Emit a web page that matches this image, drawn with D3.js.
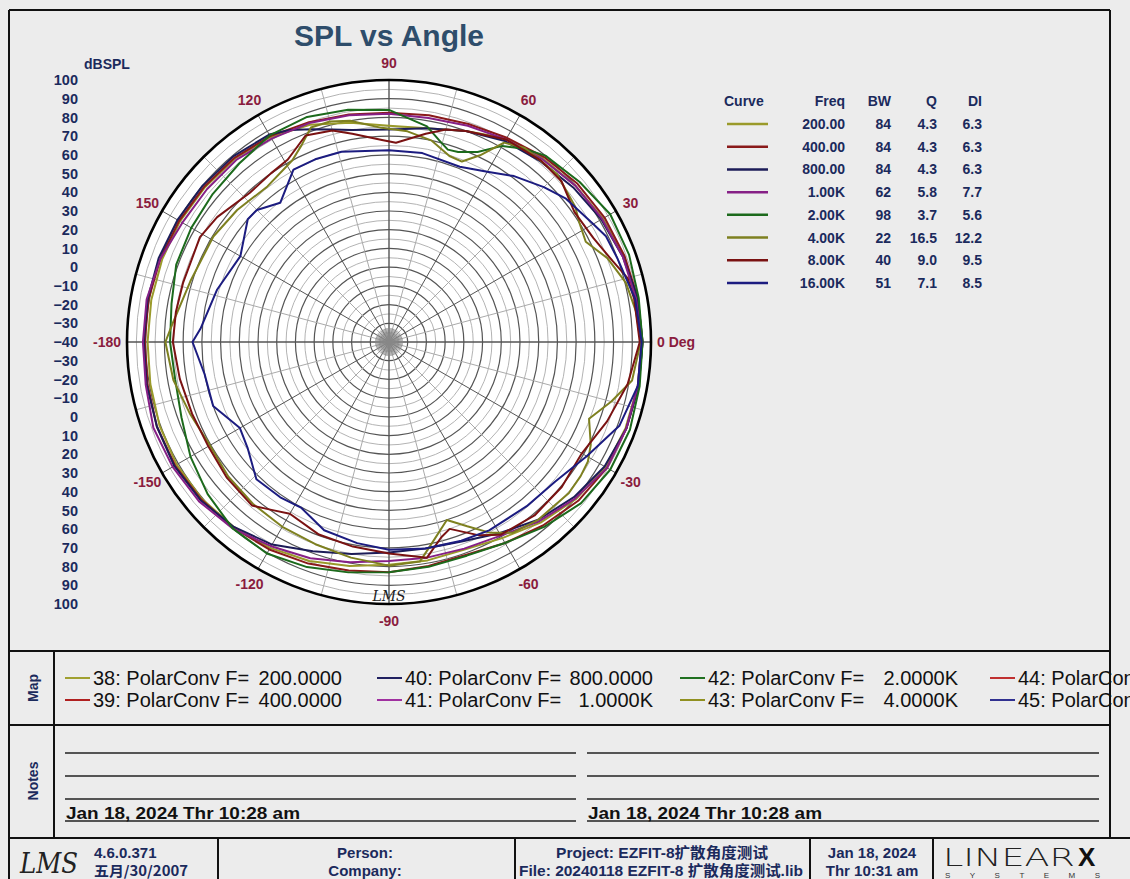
<!DOCTYPE html>
<html><head><meta charset="utf-8">
<script src="https://cdn.jsdelivr.net/npm/d3@7"></script>
<style>body{margin:0;background:#ececec;} svg{display:block;}</style>
</head><body><svg id="c" width="1130" height="879"></svg>
<script>
// ---------------- DATA ----------------
const curveFreqs = ["200.00","400.00","800.00","1.00K","2.00K","4.00K","8.00K","16.00K"];
const curveBW = ["84","84","84","62","98","22","40","51"];
const curveQ = ["4.3","4.3","4.3","5.8","3.7","16.5","9.0","7.1"];
const curveDI = ["6.3","6.3","6.3","7.7","5.6","12.2","9.5","8.5"];
const curveColors = ["#9a9a2a","#8a1a1a","#1c1c58","#862086","#1c6a1c","#7e8020","#7a1212","#1c1c80"];
const mapIds = ["38","39","40","41","42","43","44","45"];
const mapValues = ["200.0000","400.0000","800.0000","1.0000K","2.0000K","4.0000K","8.0000K","16.0000K"];
const mapColors = ["#a0a030","#b02020","#202060","#a030a0","#207020","#909020","#c03030","#303090"];
const dbTicksUpper = [100,90,80,70,60,50,40,30,20,10,0,-10,-20,-30,-40];
const dbTicksLower = [-30,-20,-10,0,10,20,30,40,50,60,70,80,90,100];
const angleTickDeg = [0,30,60,90,120,150,180,-150,-120,-90,-60,-30];
const angleTickLabels = ["0 Deg","30","60","90","120","150","-180","-150","-120","-90","-60","-30"];

// [angle deg, dBSPL]
const spl200 = [[-180,89],[-170,89.5],[-160,90.5],[-150,91],[-140,90.5],[-130,89],[-120,87],[-110,84.5],[-100,81.5],[-90,79],[-80,78.5],[-70,78],[-60,81],[-50,86],[-40,90.5],[-30,93.5],[-20,94.5],[-10,95],[0,95],[10,94.5],[20,93.5],[30,92],[40,90],[50,88],[60,85.5],[70,80],[80,76],[90,75.5],[100,79],[110,83.5],[120,86.5],[130,88],[140,88.5],[150,89],[160,89],[170,89]];
const spl400 = [[-180,90.5],[-170,91],[-160,92],[-150,92],[-140,91],[-130,89.5],[-120,88],[-110,86],[-100,84],[-90,83],[-80,81.5],[-70,81],[-60,84],[-50,88],[-40,92],[-30,94.5],[-20,95],[-10,95.5],[0,95.5],[10,95],[20,94],[30,93],[40,91.5],[50,89],[60,86],[70,84],[80,83],[90,82.5],[100,83.5],[110,85],[120,87],[130,88.5],[140,89],[150,89.5],[160,90],[170,90.5]];
const spl800 = [[-180,91],[-170,91.5],[-160,92],[-150,92.5],[-140,91.5],[-130,89],[-120,85],[-110,79],[-100,75],[-90,72.5],[-80,72],[-70,73.5],[-60,78],[-50,84],[-40,89],[-30,93],[-20,95],[-10,95.5],[0,95.5],[10,95],[20,93],[30,91],[40,88.5],[50,86],[60,84],[70,80],[80,76],[90,73.5],[100,75],[105,77.5],[110,81],[115,85],[120,88],[130,89.5],[140,90],[150,90.5],[160,91],[170,91]];
const spl1k = [[-180,91.5],[-170,92],[-160,94],[-150,93.5],[-140,92.5],[-130,90],[-120,86],[-110,83],[-100,79.5],[-90,77],[-80,77],[-70,77.5],[-60,79.5],[-50,85],[-40,90],[-30,94.5],[-20,95],[-10,95],[0,95],[10,94],[20,93],[30,91.5],[40,90],[50,87.5],[60,85],[70,83],[80,81.5],[90,82],[100,83],[110,84.5],[120,85.5],[130,87],[140,87],[150,87.5],[160,90],[170,91.5]];
const spl2k = [[-180,77],[-170,76],[-160,78],[-150,82.5],[-140,86.5],[-130,90],[-120,90.5],[-110,88],[-100,85],[-90,83],[-80,82],[-70,81.5],[-60,84],[-50,89],[-40,94],[-30,96.5],[-20,97],[-10,96],[0,95.5],[10,95.5],[20,96.5],[30,96.5],[40,93],[50,90],[55,86],[60,81],[65,72],[70,68],[73,67.5],[76,71],[80,77],[90,84],[100,86],[110,88],[120,87.5],[130,84.5],[140,83],[150,82],[160,81],[170,78]];
const spl4k = [[-180,79.5],[-170,77],[-160,73],[-150,70.5],[-140,72],[-130,73],[-120,74],[-110,75],[-100,77],[-90,79.5],[-82,78.5],[-78,70],[-72,60],[-67,67],[-62,75.5],[-57,81.5],[-50,84],[-40,85.5],[-35,85],[-31,84],[-27,81],[-21,74.5],[-15,83],[-9,91.5],[0,94.5],[7,93],[14,90.5],[21,85],[27,78],[32,80],[36,83],[45,87],[55,86.5],[60,83],[64,71],[68,64],[72,64.5],[78,70],[85,73],[92,74.5],[100,80],[105,82],[110,82],[114,75],[118,70],[128,65.5],[139,67.5],[149,69.5],[163,71],[175,76]];
const spl8k = [[-180,75.5],[-170,73.5],[-160,72],[-150,71.5],[-140,73],[-130,74],[-125,69.5],[-120,66],[-110,69.5],[-100,71],[-90,73],[-80,77],[-75,68],[-72,65],[-65,74],[-60,79],[-50,81],[-40,80.5],[-30,79],[-20,84],[-10,89.5],[0,94],[10,93],[15,92],[20,87],[27,82.5],[35,81],[43,86],[50,86.5],[60,85],[70,80],[75,77.5],[80,73],[88,66.5],[92,68],[100,73],[105,77],[112,79],[119,71.5],[125,70],[133,69],[144,73.5],[151,75.5],[164,74.5],[172,75]];
const spl16k = [[-180,65],[-170,60],[-160,60],[-150,52],[-143,54.5],[-134,62],[-125,61.3],[-118,60.2],[-109,66.4],[-99,68.8],[-90,71],[-80,72],[-70,73],[-62,74],[-50,74.5],[-40,76],[-30,82],[-20,91],[-10,95],[0,95],[10,93.5],[20,90],[26,89],[30,86],[39,81.7],[45,77],[53,71],[60,65],[68,61],[80,62.5],[90,62.5],[104,64.8],[112,65.3],[119,65.3],[128,54.4],[135,59.8],[139,60],[150,51.7],[163,56],[176,61]];
const seriesList = [spl200, spl400, spl800, spl1k, spl2k, spl4k, spl8k, spl16k];

// ---------------- DRAW ----------------
const svg = d3.select("#c");
const W = 1130, H = 879;
svg.append("rect").attr("width", W).attr("height", H).attr("fill", "#ececec");

const cx = 389, cy = 342, R = 262;
const rScale = d3.scaleLinear().domain([-40, 100]).range([0, R]);
const aScale = d3.scaleLinear().domain([-180, 180]).range([3 * Math.PI / 2, -Math.PI / 2]);
const NAVY = "#1b2a5c", MAROON = "#8a1c3e";
const sans = "'Liberation Sans', Arial, sans-serif";
const narrow = "'Liberation Sans Narrow', 'Liberation Sans', Arial, sans-serif";

// title
svg.append("text").attr("x", 389).attr("y", 46).attr("text-anchor", "middle")
  .attr("font-family", sans).attr("font-weight", "bold").attr("font-size", 30)
  .attr("fill", "#2e4d6b").text("SPL vs Angle");

// polar plot
const plot = svg.append("g").attr("transform", `translate(${cx},${cy})`);
plot.append("circle").attr("r", R).attr("fill", "#ffffff");

// grid circles every 5 dB
const gridVals = d3.range(-35, 100, 5);
plot.selectAll("circle.grid").data(gridVals).join("circle").attr("class", "grid")
  .attr("r", d => rScale(d)).attr("fill", "none")
  .attr("stroke", d => (d % 10 === 0) ? "#555" : "#aaa")
  .attr("stroke-width", d => (d % 10 === 0) ? 1.2 : 0.9);

// spokes every 15 deg
const spokeDeg = d3.range(-180, 180, 15);
const spokeLine = d3.lineRadial().angle(d => d[0]).radius(d => d[1]);
plot.selectAll("path.spoke").data(spokeDeg).join("path").attr("class", "spoke")
  .attr("d", d => spokeLine([[aScale(d), 0], [aScale(d), R]]))
  .attr("stroke", d => (d % 30 === 0) ? "#555" : "#aaa")
  .attr("stroke-width", d => (d % 90 === 0) ? 1.4 : 1);
// center starburst
const starDeg = d3.range(-180, 180, 5);
plot.selectAll("path.star").data(starDeg).join("path").attr("class", "star")
  .attr("d", d => spokeLine([[aScale(d), 0], [aScale(d), 14]]))
  .attr("stroke", "#888").attr("stroke-width", 0.8);

// curves
const curveLine = d3.lineRadial()
  .angle(d => aScale(d[0])).radius(d => rScale(d[1]))
  .curve(d3.curveLinearClosed);
plot.selectAll("path.curve").data(seriesList).join("path").attr("class", "curve")
  .attr("d", d => curveLine(d)).attr("fill", "none")
  .attr("stroke", (d, i) => curveColors[i]).attr("stroke-width", 2)
  .attr("stroke-linejoin", "round");

// outer boundary
plot.append("circle").attr("r", R).attr("fill", "none").attr("stroke", "#000").attr("stroke-width", 2.6);

// signature
plot.append("text").attr("x", 0).attr("y", rScale(98.2)).attr("text-anchor", "middle")
  .attr("font-family", "'DejaVu Serif', serif").attr("font-style", "italic")
  .attr("font-size", 14).attr("fill", "#222").text("LMS");

// angle labels
plot.selectAll("text.ang").data(angleTickDeg).join("text").attr("class", "ang")
  .each(function (d, i) {
    const a = aScale(d), rr = R + 17;
    let x = rr * Math.sin(a), y = -rr * Math.cos(a);
    let anchor = "middle";
    if (d === 0) { x = R + 6; anchor = "start"; }
    if (d === 180) { x = -R - 6; anchor = "end"; }
    d3.select(this).attr("x", x).attr("y", y + 5).attr("text-anchor", anchor).text(angleTickLabels[i]);
  })
  .attr("font-family", sans).attr("font-weight", "bold").attr("font-size", 14).attr("fill", MAROON);

// left dB axis (mirrored)
const yUp = d3.scaleLinear().domain([-40, 100]).range([cy, cy - R]);
const yDown = d3.scaleLinear().domain([-40, 100]).range([cy, cy + R]);
function styleAxis(g) {
  g.select(".domain").remove();
  g.selectAll("text").attr("font-family", sans).attr("font-weight", "bold")
    .attr("font-size", 14.5).attr("fill", NAVY);
}
svg.append("g").attr("transform", "translate(78,0)")
  .call(d3.axisLeft(yUp).tickValues(dbTicksUpper).tickSize(0).tickPadding(0).tickFormat(d3.format("d")))
  .call(styleAxis);
svg.append("g").attr("transform", "translate(78,0)")
  .call(d3.axisLeft(yDown).tickValues(dbTicksLower).tickSize(0).tickPadding(0).tickFormat(d3.format("d")))
  .call(styleAxis);
svg.append("text").attr("x", 84).attr("y", 69).attr("font-family", sans).attr("font-weight", "bold")
  .attr("font-size", 14).attr("fill", NAVY).text("dBSPL");

// legend table
const lg = svg.append("g").attr("font-family", sans).attr("font-weight", "bold").attr("font-size", 14).attr("fill", NAVY);
const colX = { curve: 724, freq: 845, bw: 891, q: 937, di: 982 };
lg.append("text").attr("x", colX.curve).attr("y", 106).text("Curve");
lg.append("text").attr("x", colX.freq).attr("y", 106).attr("text-anchor", "end").text("Freq");
lg.append("text").attr("x", colX.bw).attr("y", 106).attr("text-anchor", "end").text("BW");
lg.append("text").attr("x", colX.q).attr("y", 106).attr("text-anchor", "end").text("Q");
lg.append("text").attr("x", colX.di).attr("y", 106).attr("text-anchor", "end").text("DI");
const rowY = d3.scaleLinear().domain([0, 7]).range([124, 283]);
curveFreqs.forEach((f, i) => {
  const y = rowY(i);
  lg.append("line").attr("x1", 727).attr("x2", 768).attr("y1", y).attr("y2", y)
    .attr("stroke", curveColors[i]).attr("stroke-width", 2.5);
  lg.append("text").attr("x", colX.freq).attr("y", y + 5).attr("text-anchor", "end").text(f);
  lg.append("text").attr("x", colX.bw).attr("y", y + 5).attr("text-anchor", "end").text(curveBW[i]);
  lg.append("text").attr("x", colX.q).attr("y", y + 5).attr("text-anchor", "end").text(curveQ[i]);
  lg.append("text").attr("x", colX.di).attr("y", y + 5).attr("text-anchor", "end").text(curveDI[i]);
});

// frame
const fr = svg.append("g").attr("stroke", "#111").attr("stroke-width", 2);
[[9, 10, 1110, 10], [9, 10, 9, 879], [1110, 10, 1110, 838],
 [9, 651, 1110, 651], [9, 725, 1110, 725], [9, 838, 1130, 838],
 [54, 651, 54, 838], [218, 838, 218, 879], [515, 838, 515, 879], [810, 838, 810, 879], [933, 838, 933, 879]]
  .forEach(l => fr.append("line").attr("x1", l[0]).attr("y1", l[1]).attr("x2", l[2]).attr("y2", l[3]));

// row labels
svg.append("text").attr("transform", "translate(38,688) rotate(-90)").attr("text-anchor", "middle")
  .attr("font-family", sans).attr("font-weight", "bold").attr("font-size", 14).attr("fill", NAVY).text("Map");
svg.append("text").attr("transform", "translate(38,781) rotate(-90)").attr("text-anchor", "middle")
  .attr("font-family", sans).attr("font-weight", "bold").attr("font-size", 14).attr("fill", NAVY).text("Notes");

// map entries (the last column is cut by the picture edge, as in the original)
const mapColX = [65, 377, 680, 990];
const mapValEnd = [249, 248, 250, 250];
const mapRowY = [678, 700];
mapIds.forEach((id, i) => {
  const c = Math.floor(i / 2), r = i % 2;
  const x = mapColX[c], y = mapRowY[r];
  svg.append("line").attr("x1", x).attr("x2", x + 25).attr("y1", y).attr("y2", y)
    .attr("stroke", mapColors[i]).attr("stroke-width", 2);
  svg.append("text").attr("x", x + 28).attr("y", y + 7).attr("font-family", sans).attr("font-size", 20)
    .attr("fill", "#111").text(id + ": PolarConv F=");
  if (c < 3) {
    svg.append("text").attr("x", x + 28 + mapValEnd[c]).attr("y", y + 7).attr("text-anchor", "end")
      .attr("font-family", sans).attr("font-size", 20).attr("fill", "#111").text(mapValues[i]);
  }
});

// notes lines
const notesY = [753, 776, 799, 821];
[[65, 576], [587, 1099]].forEach(cl => {
  notesY.forEach(y => svg.append("line").attr("x1", cl[0]).attr("x2", cl[1]).attr("y1", y).attr("y2", y)
    .attr("stroke", "#222").attr("stroke-width", 1.6));
  svg.append("text").attr("x", cl[0] + 1).attr("y", 819).attr("font-family", narrow).attr("font-weight", "bold")
    .attr("font-size", 17).attr("fill", "#111").attr("textLength", 234).attr("lengthAdjust", "spacingAndGlyphs")
    .text("Jan 18, 2024  Thr 10:28 am");
});

// footer
const ft = svg.append("g").attr("font-family", narrow).attr("font-weight", "bold").attr("font-size", 15).attr("fill", NAVY);
ft.append("text").attr("x", 94).attr("y", 858).text("4.6.0.371");
ft.append("text").attr("x", 94).attr("y", 876).attr("font-size", 14).attr("font-family", "'Noto Sans CJK SC', " + narrow).text("五月/30/2007")
  .attr("textLength", 94).attr("lengthAdjust", "spacingAndGlyphs");
ft.append("text").attr("x", 365).attr("y", 858).attr("text-anchor", "middle").text("Person:");
ft.append("text").attr("x", 365).attr("y", 876).attr("text-anchor", "middle").text("Company:");
ft.append("text").attr("x", 556).attr("y", 858).attr("font-size", 14.5).attr("font-family", narrow + ", 'Noto Sans CJK SC'")
  .attr("textLength", 212).attr("lengthAdjust", "spacingAndGlyphs").text("Project: EZFIT-8扩散角度测试");
ft.append("text").attr("x", 519).attr("y", 876).attr("font-size", 14.5).attr("font-family", narrow + ", 'Noto Sans CJK SC'")
  .attr("textLength", 284).attr("lengthAdjust", "spacingAndGlyphs").text("File: 20240118 EZFIT-8 扩散角度测试.lib");
ft.append("text").attr("x", 872).attr("y", 858).attr("text-anchor", "middle").text("Jan 18, 2024");
ft.append("text").attr("x", 872).attr("y", 876).attr("text-anchor", "middle").text("Thr 10:31 am");
// logos
svg.append("text").attr("x", 20).attr("y", 873).attr("font-family", "'DejaVu Serif', serif").attr("font-style", "italic")
  .attr("font-size", 28).attr("fill", "#222").attr("textLength", 58).attr("lengthAdjust", "spacingAndGlyphs").text("LMS");
svg.append("text").attr("x", 943).attr("y", 866).attr("font-family", "'DejaVu Sans', sans-serif").attr("font-weight", 200)
  .attr("font-size", 25).attr("fill", "#222").attr("textLength", 132).attr("lengthAdjust", "spacingAndGlyphs").text("LINEAR");
svg.append("text").attr("x", 1078).attr("y", 866).attr("font-family", sans).attr("font-weight", "bold")
  .attr("font-size", 26).attr("fill", "#111").text("X");
svg.append("text").attr("x", 945).attr("y", 878).attr("font-family", sans).attr("font-size", 8)
  .attr("fill", "#333").attr("textLength", 155).attr("lengthAdjust", "spacing").text("SYSTEMS");
</script></body></html>
